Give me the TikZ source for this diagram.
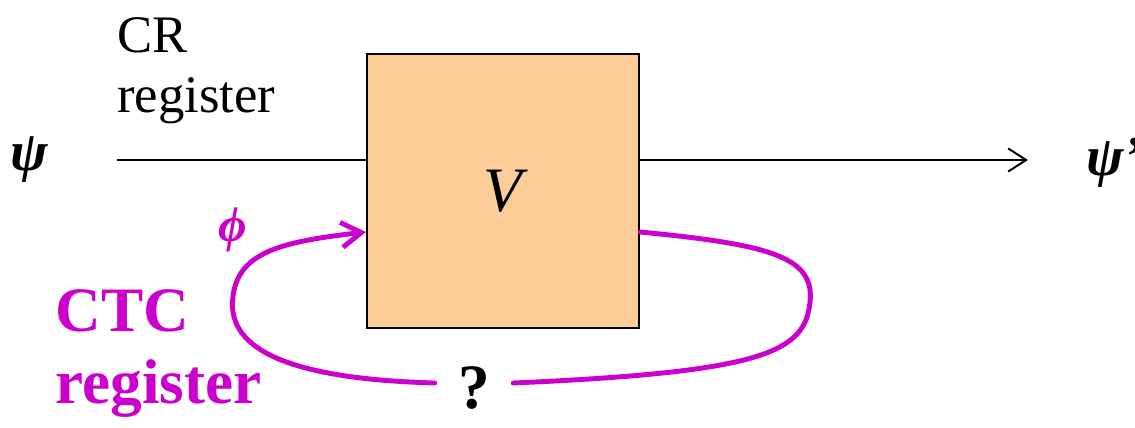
\documentclass[tikz,border=0pt]{standalone}
\usepackage{fontspec}
\setmainfont{Liberation Serif}
\usetikzlibrary{arrows.meta,positioning}
\definecolor{gatefill}{RGB}{252,204,153}
\definecolor{ctc}{RGB}{204,0,204}

\begin{document}
\begin{tikzpicture}[
  gate/.style={draw=black, fill=gatefill, line width=1.2pt,
               minimum width=5.44cm, minimum height=5.48cm,
               font=\fontsize{36}{36}\selectfont\itshape},
  wire/.style={line width=1.1pt, draw=black},
  loop/.style={line width=2.8pt, draw=ctc, line cap=round},
  statelbl/.style={font=\fontsize{32}{32}\selectfont\bfseries\itshape, inner sep=0pt},
]
\useasboundingbox (0,0) rectangle (22.7,8.54);

\node[gate] (V) at (10.06, 4.72) {V};

\coordinate (inL) at (2.34, 5.34);
\coordinate (outR) at (20.56, 5.34);
\node[statelbl, anchor=west] (psi) at (0.2, 5.34) {ψ};
\node[statelbl, anchor=west] (psiout) at (21.72, 5.28) {ψ'};

\node[anchor=north west, inner sep=0pt, align=left,
      font=\fontsize{30}{34}\selectfont] (cr) at (2.34, 8.2) {CR\\register};
\node[anchor=north west, inner sep=0pt, align=left, text=ctc,
      font=\fontsize{36}{41}\selectfont\bfseries] (ctcl) at (1.1, 2.76) {CTC\\register};
\node[statelbl, text=ctc, font=\fontsize{28}{28}\selectfont\bfseries\itshape] (phi) at (4.66, 3.94) {ϕ};
\node[font=\fontsize{36}{36}\selectfont\bfseries, inner xsep=0.46cm, inner ysep=0pt] (q) at (9.48, 0.78) {?};

\draw[wire] (inL) -- (inL -| V.west);
\draw[wire, -{Straight Barb[length=0.36cm, width=0.46cm]}] (V.east |- inL) -- (outR);

\draw[loop] (V.east |- 0,3.9) .. controls (15.4,3.65) and (16.3,3.4) .. (16.2,2.5)
  .. controls (16.1,1.5) and (15.3,1.1) .. (q.east |- 0,0.88);
\draw[loop, -{Straight Barb[length=0.4cm, width=0.5cm]}] (q.west |- 0,0.88)
  .. controls (6.2,0.95) and (4.6,1.4) .. (4.65,2.5)
  .. controls (4.7,3.5) and (5.6,3.7) .. (V.west |- 0,3.9);
\end{tikzpicture}
\end{document}
